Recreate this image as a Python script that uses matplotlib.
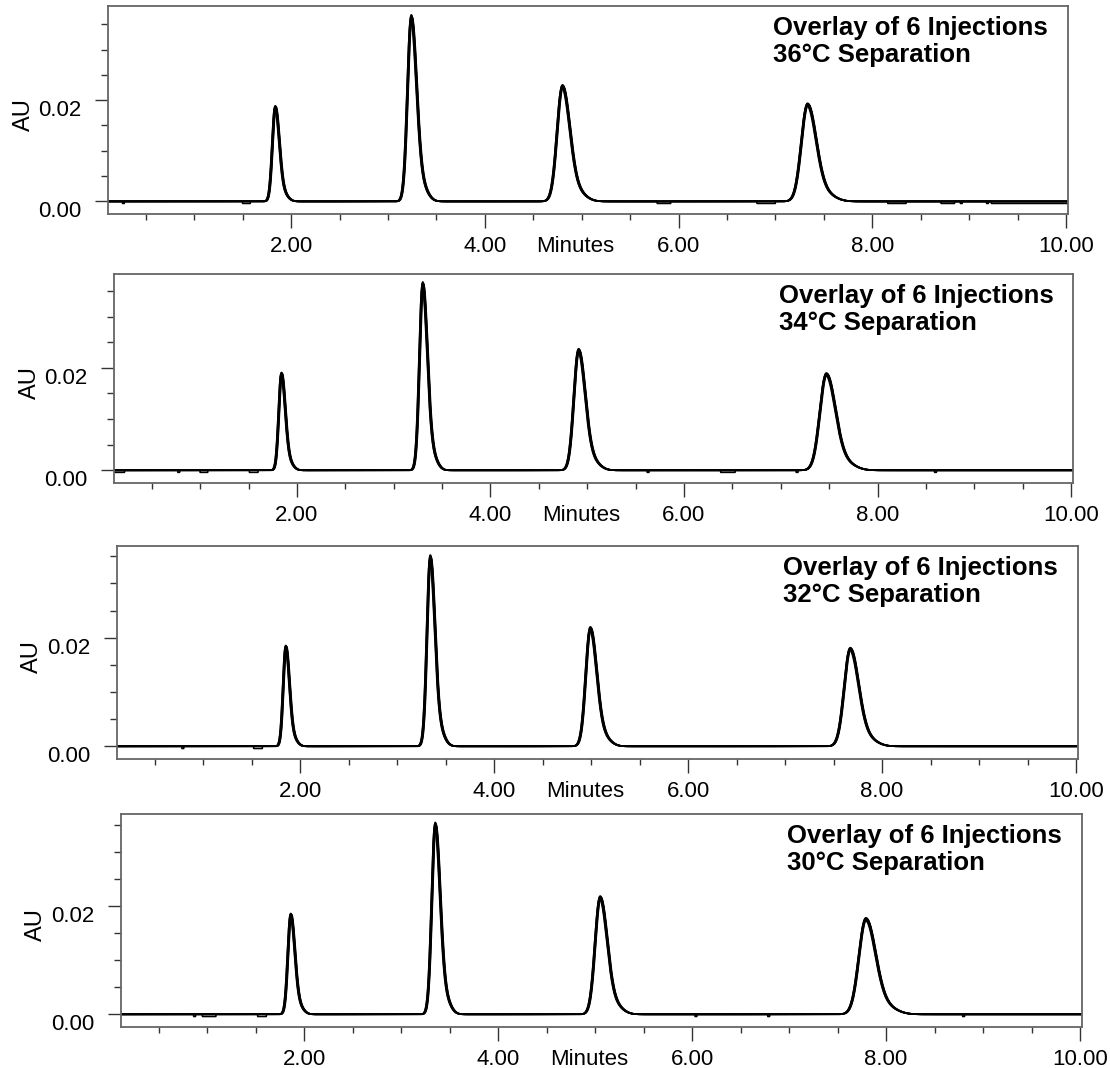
import numpy as np
import matplotlib.pyplot as plt
import matplotlib.transforms as mtransforms
from matplotlib.ticker import MultipleLocator, FixedLocator, FormatStrFormatter

plt.rcParams['font.family'] = ['Liberation Sans', 'DejaVu Sans']

temps = ['36', '34', '32', '30']

# retention times (min), heights (AU), peak widths (sigma, min)
rt_36 = [1.836, 3.24, 4.80, 7.33]
h_36 = [0.0187, 0.0365, 0.0228, 0.0192]
w_36 = [0.030, 0.039, 0.055, 0.064]

rt_34 = [1.84, 3.30, 4.91, 7.47]
h_34 = [0.0189, 0.0364, 0.0235, 0.0188]
w_34 = [0.028, 0.034, 0.049, 0.067]

rt_32 = [1.85, 3.34, 4.99, 7.67]
h_32 = [0.0184, 0.0349, 0.0218, 0.0180]
w_32 = [0.027, 0.034, 0.047, 0.062]

rt_30 = [1.86, 3.35, 5.05, 7.79]
h_30 = [0.0185, 0.0352, 0.0217, 0.0177]
w_30 = [0.030, 0.036, 0.052, 0.072]

# small baseline dips (start, end) in min
dips_36 = [(0.26, 0.28), (1.50, 1.58), (5.78, 5.92), (6.81, 7.00), (8.16, 8.35),
           (8.71, 8.85), (8.91, 8.93), (9.18, 9.20), (9.23, 10.02)]
dips_34 = [(0.11, 0.22), (0.77, 0.79), (1.00, 1.08), (1.51, 1.60), (5.62, 5.64),
           (6.38, 6.53), (7.16, 7.18), (8.59, 8.61)]
dips_32 = [(0.78, 0.80), (1.52, 1.61)]
dips_30 = [(0.86, 0.88), (0.95, 1.09), (1.52, 1.61), (6.03, 6.05), (6.78, 6.80), (8.79, 8.81)]

# six injections: small retention / response differences
inj_shift = [0.0, 0.005, -0.004, 0.003, -0.006, 0.008]
inj_scale = [1.0, 0.985, 0.992, 0.995, 0.975, 0.988]

panels = [(rt_36, h_36, w_36, dips_36), (rt_34, h_34, w_34, dips_34),
          (rt_32, h_32, w_32, dips_32), (rt_30, h_30, w_30, dips_30)]

# axes boxes in pixels (left, top, right, bottom)
boxes = [(108, 6, 1068, 214), (114, 274, 1073, 483), (117, 546, 1078, 759), (121, 814, 1082, 1027)]
ylims = [(-0.00249, 0.0386), (-0.00248, 0.0383), (-0.00234, 0.0369), (-0.00235, 0.0371)]
xlim = (0.11, 10.02)

W, H = 1110, 1068
fig = plt.figure(figsize=(W / 100, H / 100), dpi=100)

x = np.arange(xlim[0], xlim[1], 0.002)


def trace(rts, hs, ws, shift, scale):
    y = np.zeros_like(x)
    for t, h, s in zip(rts, hs, ws):
        t2 = t + shift
        sig = np.where(x < t2, s, s * 1.4)
        y += h * scale * np.exp(-0.5 * ((x - t2) / sig) ** 2)
        # slight tailing
        y += 0.07 * h * scale * np.exp(-0.5 * ((x - t2 - 3 * s) / (1.5 * s)) ** 2)
    return y


for i, (rts, hs, ws, dips) in enumerate(panels):
    l, t, r, b = boxes[i]
    ax = fig.add_axes([l / W, 1 - b / H, (r - l) / W, (b - t) / H])
    for k in range(6):
        y = trace(rts, hs, ws, inj_shift[k], inj_scale[k])
        if k == 1:
            for d0, d1 in dips:
                y[(x >= d0) & (x <= d1)] -= 0.0004
        ax.plot(x, y, color='black', lw=1.2)

    ax.set_xlim(*xlim)
    ax.set_ylim(*ylims[i])

    ax.xaxis.set_major_locator(MultipleLocator(2))
    ax.xaxis.set_minor_locator(MultipleLocator(0.5))
    ax.xaxis.set_major_formatter(FormatStrFormatter('%.2f'))
    ax.yaxis.set_major_locator(FixedLocator([0.0, 0.02]))
    ax.yaxis.set_minor_locator(FixedLocator([0.005, 0.01, 0.015, 0.025, 0.03, 0.035]))
    ax.yaxis.set_major_formatter(FormatStrFormatter('%.2f'))

    ax.tick_params(axis='x', which='major', length=10, width=1, pad=6, labelsize=16, color='#333333')
    ax.tick_params(axis='x', which='minor', length=4, width=1, color='#333333')
    ax.tick_params(axis='y', which='major', length=9.5, width=1, pad=10, labelsize=16, color='#333333')
    ax.tick_params(axis='y', which='minor', length=5, width=1, color='#333333')
    plt.setp(ax.get_yticklabels(), va='top')

    for sp in ax.spines.values():
        sp.set_color('#666666')
        sp.set_linewidth(1.3)

    ax.text(0.693, 0.952, 'Overlay of 6 Injections\n' + temps[i] + '°C Separation',
            transform=ax.transAxes, ha='left', va='top', fontsize=18.5,
            fontweight='bold', linespacing=1.15)

    ax.text(-0.088, 0.48, 'AU', transform=ax.transAxes, rotation=90,
            ha='center', va='center', fontsize=17)

    off = mtransforms.offset_copy(ax.transAxes, fig=fig, x=0, y=-16, units='points')
    ax.text(0.487, 0, 'Minutes', transform=off, ha='center', va='top', fontsize=16)

fig.savefig('out.png', dpi=100)
